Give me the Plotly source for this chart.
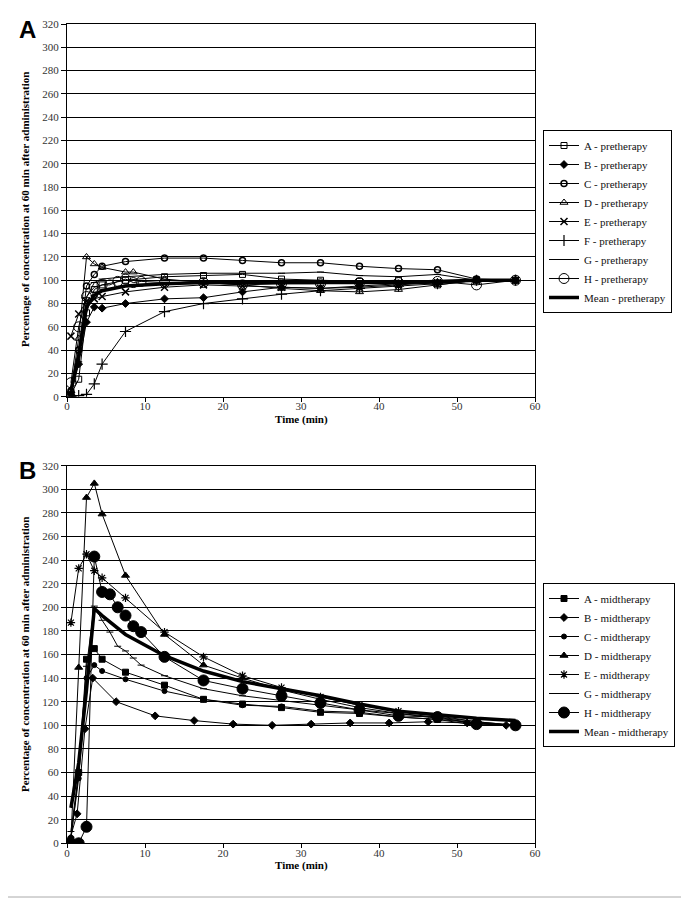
import plotly.graph_objects as go

# ---------------- data ----------------
t_std = [0.5, 1.5, 2.5, 3.5, 4.5, 7.5, 12.5, 17.5, 22.5, 27.5, 32.5, 37.5, 42.5, 47.5, 52.5, 57.5]
t_dense = [0.5, 1.5, 2.5, 3.5, 4.5, 5.5, 6.5, 7.5, 8.5, 9.5, 12.5, 17.5, 22.5, 27.5, 32.5, 37.5, 42.5, 47.5, 52.5, 57.5]
t_D_pre = [0.5, 1.5, 2.5, 3.5, 4.5, 7.5, 8.5, 12.5, 17.5, 22.5, 27.5, 32.5, 37.5, 42.5, 47.5, 52.5, 57.5]
t_B_mid = [0.3, 1.3, 2.3, 3.3, 6.3, 11.3, 16.3, 21.3, 26.3, 31.3, 36.3, 41.3, 46.3, 51.3, 56.3]

# Panel A - pretherapy
A_pre = [2, 15, 72, 92, 96, 100, 103, 104, 105, 101, 100, 99, 100, 96, 100, 100]
B_pre = [2, 28, 64, 77, 76, 80, 84, 85, 90, 94, 93, 95, 97, 98, 100, 100]
C_pre = [5, 40, 95, 105, 112, 116, 119, 119, 117, 115, 115, 112, 110, 109, 101, 100]
D_pre = [5, 50, 120, 114, 111, 107, 107, 101, 98, 96, 93, 91, 90, 92, 96, 100, 100]
E_pre = [52, 71, 82, 84, 86, 90, 94, 96, 95, 94, 93, 94, 96, 98, 100, 100]
F_pre = [0, 1, 2, 11, 28, 56, 73, 80, 84, 88, 91, 93, 95, 97, 100, 100]
G_pre = [3, 30, 85, 98, 101, 103, 105, 106, 106, 106, 107, 104, 103, 105, 100, 100]
H_pre = [12, 60, 86, 94, 96, 96, 99, 101, 98, 99, 98, 98, 96, 97, 97, 98, 98, 99, 96, 100]
Mean_pre = [5, 36, 77, 87, 91, 95, 97, 98, 98, 98, 98, 98, 98, 99, 100, 100]

# Panel B - midtherapy
A_mid = [3, 60, 156, 165, 156, 145, 134, 122, 118, 115, 111, 110, 107, 105, 100, 100]
B_mid = [2, 25, 97, 140, 120, 108, 104, 101, 100, 101, 102, 102, 103, 102, 100]
C_mid = [5, 55, 140, 151, 146, 139, 129, 122, 117, 116, 112, 111, 107, 105, 102, 100]
D_mid = [3, 149, 293, 305, 279, 227, 177, 151, 140, 130, 122, 115, 110, 107, 103, 100]
E_mid = [187, 233, 245, 231, 225, 208, 179, 158, 142, 132, 124, 117, 112, 108, 103, 100]
G_mid = [10, 60, 150, 201, 189, 179, 167, 163, 157, 151, 142, 131, 125, 121, 117, 113, 110, 106, 102, 100]
H_mid = [0, 0, 14, 243, 213, 211, 200, 193, 184, 179, 158, 138, 131, 125, 119, 113, 108, 107, 101, 100]
Mean_mid = [30, 68, 130, 199, 193, 177, 159, 146, 137, 131, 125, 118, 112, 109, 106, 104]

x_ticks = [0, 10, 20, 30, 40, 50, 60]
y_ticks = list(range(0, 321, 20))

# ---------------- figure ----------------
OFF = 8                      # page body margin
W, H = 689 - OFF, 903 - OFF
SERIF = "Liberation Serif, Times New Roman, serif"
fig = go.Figure()

def add(x, y, name, sym, size, xa, ya, leg, width=1, mode="lines+markers", mlw=1):
    fig.add_trace(go.Scatter(
        x=x, y=y, name=name, mode=mode, xaxis=xa, yaxis=ya, legend=leg,
        line=dict(color="black", width=width),
        marker=dict(symbol=sym, size=size, color="black", line=dict(color="black", width=mlw)),
    ))

# panel A
add(t_std, A_pre, "A - pretherapy", "square-open", 6, "x", "y", "legend")
add(t_std, B_pre, "B - pretherapy", "diamond", 6, "x", "y", "legend")
add(t_std, C_pre, "C - pretherapy", "circle-open", 6, "x", "y", "legend", mlw=1.5)
add(t_D_pre, D_pre, "D - pretherapy", "triangle-up-open", 7, "x", "y", "legend")
add(t_std, E_pre, "E - pretherapy", "x-thin-open", 7, "x", "y", "legend", mlw=1.5)
add(t_std, F_pre, "F - pretherapy", "cross-thin-open", 8, "x", "y", "legend", mlw=1.2)
add(t_std, G_pre, "G - pretherapy", "line-ew-open", 5, "x", "y", "legend")
add(t_dense, H_pre, "H - pretherapy", "circle-open", 10, "x", "y", "legend")
add(t_std, Mean_pre, "Mean - pretherapy", "circle", 1, "x", "y", "legend", width=3.5, mode="lines")

# panel B
add(t_std, A_mid, "A - midtherapy", "square", 6, "x2", "y2", "legend2")
add(t_B_mid, B_mid, "B - midtherapy", "diamond", 6, "x2", "y2", "legend2")
add(t_std, C_mid, "C - midtherapy", "circle", 5, "x2", "y2", "legend2")
add(t_std, D_mid, "D - midtherapy", "triangle-up", 7, "x2", "y2", "legend2")
add(t_std, E_mid, "E - midtherapy", "asterisk-open", 7, "x2", "y2", "legend2", mlw=1.2)
add(t_dense, G_mid, "G - midtherapy", "line-ew-open", 5, "x2", "y2", "legend2")
add(t_dense, H_mid, "H - midtherapy", "circle", 11, "x2", "y2", "legend2")
add(t_std, Mean_mid, "Mean - midtherapy", "circle", 1, "x2", "y2", "legend2", width=3.5, mode="lines")

def px_x(p):
    return (p - OFF) / W

def px_y(p):
    return 1 - (p - OFF) / H

xdom = [px_x(67), px_x(535)]
axA = [px_y(396.7), px_y(24)]
axB = [px_y(843.3), px_y(465.7)]

tickfont = dict(family=SERIF, size=11, color="#333")
xax = dict(range=[0, 60], tickvals=x_ticks, ticks="outside", ticklen=4, tickcolor="black",
           showline=True, linecolor="black", linewidth=1, mirror=True, showgrid=False,
           zeroline=False, tickfont=tickfont, fixedrange=True, automargin=False,
           ticklabelstandoff=-5)
yax = dict(range=[0, 320], tickvals=y_ticks, ticks="outside", ticklen=5, tickcolor="black",
           showline=True, linecolor="black", linewidth=1, mirror=True, showgrid=True,
           gridcolor="black", gridwidth=1, zeroline=False, tickfont=tickfont, fixedrange=True,
           automargin=False)

legfont = dict(family=SERIF, size=11, color="#111")
fig.update_layout(
    width=W, height=H, margin=dict(l=0, r=0, t=0, b=0, pad=0, autoexpand=False),
    paper_bgcolor="white", plot_bgcolor="white",
    xaxis=dict(xax, domain=xdom, anchor="y"),
    yaxis=dict(yax, domain=axA, anchor="x"),
    xaxis2=dict(xax, domain=xdom, anchor="y2"),
    yaxis2=dict(yax, domain=axB, anchor="x2"),
    legend=dict(x=px_x(543), y=px_y(130), xanchor="left", yanchor="top",
                bordercolor="black", borderwidth=1, font=legfont, bgcolor="white",
                tracegroupgap=0, itemwidth=30),
    legend2=dict(x=px_x(543), y=px_y(583), xanchor="left", yanchor="top",
                 bordercolor="black", borderwidth=1, font=legfont, bgcolor="white",
                 tracegroupgap=0, itemwidth=30),
    showlegend=True,
)

ytitle = "Percentage of concentration at 60 min after administration"
ann = [
    dict(text="<b>A</b>", x=px_x(27), y=px_y(30), font=dict(family="Liberation Sans, Arial", size=24, color="black")),
    dict(text="<b>B</b>", x=px_x(27), y=px_y(470), font=dict(family="Liberation Sans, Arial", size=24, color="black")),
    dict(text="<b>" + ytitle + "</b>", x=px_x(25), y=px_y(210), textangle=-90,
         font=dict(family=SERIF, size=11, color="black")),
    dict(text="<b>" + ytitle + "</b>", x=px_x(25), y=px_y(655), textangle=-90,
         font=dict(family=SERIF, size=11, color="black")),
    dict(text="<b>Time (min)</b>", x=px_x(301), y=px_y(419), font=dict(family=SERIF, size=11, color="black")),
    dict(text="<b>Time (min)</b>", x=px_x(301), y=px_y(865), font=dict(family=SERIF, size=11, color="black")),
]
for a in ann:
    a.update(xref="paper", yref="paper", showarrow=False, xanchor="center", yanchor="middle")
fig.update_layout(annotations=ann)

fig.add_shape(type="rect", xref="paper", yref="paper",
              x0=px_x(7.5), x1=px_x(683), y0=px_y(897), y1=px_y(5.5),
              line=dict(color="#aaaaaa", width=1), fillcolor="rgba(0,0,0,0)", layer="below")

fig.write_html("out.html")
